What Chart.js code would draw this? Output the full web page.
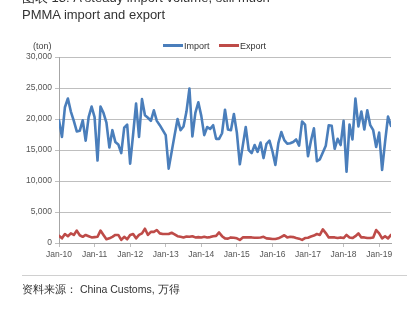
<!DOCTYPE html>
<html>
<head>
<meta charset="utf-8">
<script src="https://cdn.jsdelivr.net/npm/chart.js@4/dist/chart.umd.min.js"></script>
<style>
  html, body { margin:0; padding:0; background:#fff; }
  body { width:407px; height:322px; position:relative; overflow:hidden; font-family:"Liberation Sans", Arial, sans-serif; }
  #c { position:absolute; left:0; top:0; }
  .t { position:absolute; white-space:nowrap; color:#333; }
  .title { left:22px; font-size:13px; line-height:16px; }
  .leg { position:absolute; top:40px; font-size:9px; color:#333; height:12px; line-height:12px; }
  .sw { display:inline-block; width:20px; height:2.5px; vertical-align:middle; margin-right:1px; position:relative; top:-1px; }
</style>
</head>
<body>
<canvas id="c" width="407" height="322"></canvas>
<div class="t title" style="top:-10px;">图表 13: A steady import volume, still much</div>
<div class="t title" style="top:7px;">PMMA import and export</div>
<div class="t" style="left:33px; top:40px; font-size:9px; line-height:12px; color:#444;">(ton)</div>
<div class="leg" style="left:163px;"><span class="sw" style="background:#4A7EBB"></span>Import</div>
<div class="leg" style="left:219px;"><span class="sw" style="background:#BE4B48"></span>Export</div>
<div style="position:absolute; left:22px; right:0; top:275px; height:1px; background:#d0d0d0;"></div>
<div class="t" style="left:22px; top:282px; font-size:10.5px; line-height:14px;">资料来源： China Customs, 万得</div>
<script>
// Monthly, Jan-2010 .. May-2019 (113 months)
const yearLabels = ['Jan-10','Jan-11','Jan-12','Jan-13','Jan-14','Jan-15','Jan-16','Jan-17','Jan-18','Jan-19'];
const importTons = [
  19800,17100,21900,23300,21200,19700,18000,18100,19800,16500,20300,22000,
  20300,13300,22000,21000,19400,15400,18200,16300,15900,14500,18600,19100,
  12800,17500,22500,17100,23200,20600,20200,19700,21400,19700,19000,18200,
  17400,12000,14700,17400,20000,18200,18800,21200,24900,17200,21000,22700,
  20500,17400,18700,18400,19000,16800,16800,17700,21500,18300,18200,20800,
  17800,12700,15700,18700,15000,14500,15800,14700,16200,13700,16000,16500,
  14800,12600,16100,17900,16600,16000,16100,16300,16700,15700,19600,19100,
  14000,16500,18500,13200,13500,14600,15700,19000,18900,15200,16800,15800,
  19700,11500,19100,16700,23300,18800,21200,18300,21400,19000,18200,15500,
  17800,11800,16300,20400,18900
];
const exportTons = [
  1150,750,1450,1100,1550,1300,2000,1250,1000,1300,1100,900,
  950,1000,2000,1300,600,750,1000,1300,1300,500,1000,600,
  1300,1450,750,1300,1550,2300,1300,1800,1800,2100,1550,1450,
  1450,1450,1650,1400,1100,1000,900,1050,1000,1100,900,950,
  900,1000,900,950,1100,1150,1700,1100,750,700,900,850,
  750,500,900,900,900,900,850,850,900,1000,750,700,
  650,650,750,1000,1250,900,1000,950,800,700,500,800,
  850,1050,1200,1450,1300,2200,1600,900,900,900,800,900,
  800,1300,900,800,1100,1550,900,900,800,800,900,2100,
  1550,750,1100,750,1300
];

const toPts = arr => arr.map((v, i) => ({ x: i, y: v }));

new Chart(document.getElementById('c'), {
  type: 'line',
  data: {
    datasets: [
      { label: 'Import', data: toPts(importTons), borderColor: '#4A7EBB', backgroundColor: '#4A7EBB',
        borderWidth: 2.6, pointRadius: 0, tension: 0, borderJoinStyle: 'round', borderCapStyle: 'round' },
      { label: 'Export', data: toPts(exportTons), borderColor: '#BE4B48', backgroundColor: '#BE4B48',
        borderWidth: 2.6, pointRadius: 0, tension: 0, borderJoinStyle: 'round', borderCapStyle: 'round' }
    ]
  },
  options: {
    responsive: false,
    animation: false,
    devicePixelRatio: 1,
    layout: { padding: { top: 57, right: 16, left: 0, bottom: 59 } },
    plugins: { legend: { display: false }, tooltip: { enabled: false }, title: { display: false } },
    scales: {
      x: {
        type: 'linear', min: 0, max: importTons.length - 1,
        afterFit: s => { s.height = 20; },
        grid: { display: true, drawOnChartArea: false, drawTicks: true, tickLength: 4, color: '#bfbfbf' },
        border: { display: true, color: '#a6a6a6', width: 1 },
        ticks: {
          stepSize: 12, includeBounds: false, autoSkip: false, maxRotation: 0, padding: 3,
          color: '#555', font: { family: 'Liberation Sans', size: 8.5 },
          callback: v => yearLabels[Math.round(v / 12)]
        }
      },
      y: {
        min: 0, max: 30000,
        afterFit: s => { s.width = 59; },
        grid: { color: '#bfbfbf', drawTicks: true, tickLength: 4, lineWidth: 1 },
        border: { display: true, color: '#a6a6a6', width: 1 },
        ticks: { stepSize: 5000, padding: 3, color: '#555', font: { family: 'Liberation Sans', size: 8.5 } }
      }
    }
  }
});
</script>
</body>
</html>
